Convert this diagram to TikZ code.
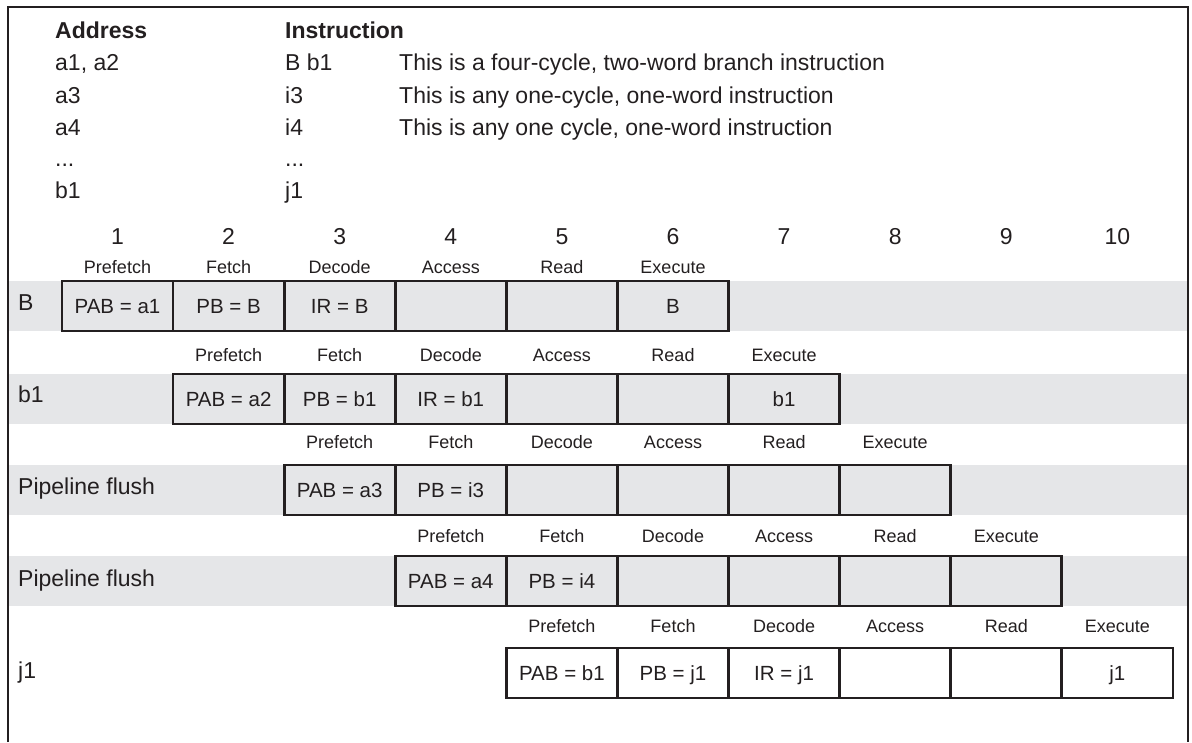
\documentclass[tikz,border=0pt]{standalone}
\usepackage{fontspec}
\setmainfont{Liberation Sans}
\definecolor{band}{HTML}{E5E6E8}
\definecolor{ink}{HTML}{231F20}

\begin{document}
\begin{tikzpicture}[x=1pt, y=-1pt,
  txt/.style={font=\fontsize{23}{27}\selectfont, text=ink, inner sep=0pt, anchor=west,
     text height=16.5pt, text depth=0pt},
  stage/.style={font=\fontsize{18}{21}\selectfont, text=ink, inner sep=0pt,
     text height=12.9pt, text depth=0pt},
  cell/.style={draw=ink, line width=2.8pt, fill=band, minimum width=111.1pt, minimum height=50pt,
     font=\fontsize{20.5}{24}\selectfont, text=ink, inner sep=0pt,
     text height=14.7pt, text depth=0pt}]
  \useasboundingbox (0,0) rectangle (1192,742);

  % grey bands behind the pipeline rows
  \foreach \top in {281,374,465,556}
    \fill[band] (8,\top) rectangle (1188,{\top+50});
  \draw[ink, line width=2pt] (8,742) -- (8,7) -- (1188,7) -- (1188,742);

  % program listing
  \node[txt, font=\fontsize{23}{27}\selectfont\bfseries] (addr) at (55,30) {Address};
  \node[txt, font=\fontsize{23}{27}\selectfont\bfseries] (instr) at (285,30) {Instruction};
  \node[txt] (a1) at (55,62) {a1, a2};
  \node[txt] (a3) at (55,95) {a3};
  \node[txt] (a4) at (55,127) {a4};
  \node[txt] (adots) at (55,158) {...};
  \node[txt] (ab1) at (55,190) {b1};
  \node[txt] (ib) at (285,62) {B b1};
  \node[txt] (i3) at (285,95) {i3};
  \node[txt] (i4) at (285,127) {i4};
  \node[txt] (idots) at (285,158) {...};
  \node[txt] (ij1) at (285,190) {j1};
  \node[txt] (d1) at (399,62) {This is a four-cycle, two-word branch instruction};
  \node[txt] (d3) at (399,95) {This is any one-cycle, one-word instruction};
  \node[txt] (d4) at (399,127) {This is any one cycle, one-word instruction};

  % cycle numbers
  \foreach \k in {1,...,10}
    \node[txt, anchor=center] (n\k) at ({117.5+111.1*(\k-1)},236) {\k};

  % row labels and stage names
  \foreach \r/\sy/\lab [evaluate=\r as \cy using {302+92*\r}] in
      {0/267/B, 1/355/b1, 2/442/Pipeline flush, 3/536/Pipeline flush, 4/626/j1} {
    \node[txt] (lab\r) at (18,\cy) {\lab};
    \foreach \s [count=\k] in {Prefetch,Fetch,Decode,Access,Read,Execute}
      \node[stage] (s\r-\k) at ({117.5+111.1*(\r+\k-1)},\sy) {\s};
  }

  % pipeline cells
  \foreach \t [count=\k] in {PAB = a1,PB = B,IR = B,{},{},B}
    \node[cell] (c0-\k) at ({117.5+111.1*(\k-1)},306) {\t};
  \foreach \t [count=\k] in {PAB = a2,PB = b1,IR = b1,{},{},b1}
    \node[cell] (c1-\k) at ({117.5+111.1*\k},399) {\t};
  \foreach \t [count=\k] in {PAB = a3,PB = i3,{},{},{},{}}
    \node[cell] (c2-\k) at ({117.5+111.1*(\k+1)},490) {\t};
  \foreach \t [count=\k] in {PAB = a4,PB = i4,{},{},{},{}}
    \node[cell] (c3-\k) at ({117.5+111.1*(\k+2)},581) {\t};
  \foreach \t [count=\k] in {PAB = b1,PB = j1,IR = j1,{},{},j1}
    \node[cell, fill=white] (c4-\k) at ({117.5+111.1*(\k+3)},673) {\t};
\end{tikzpicture}
\end{document}
